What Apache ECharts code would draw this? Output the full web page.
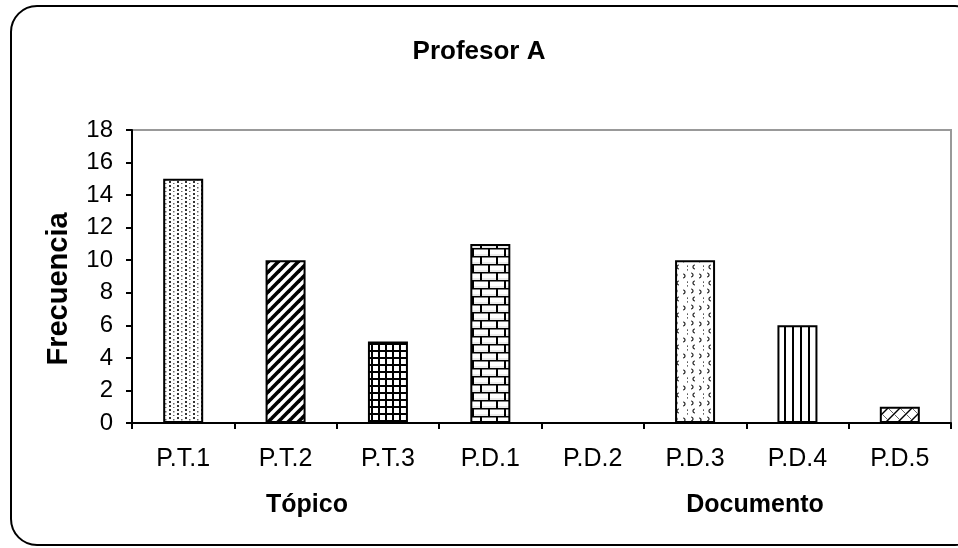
<!DOCTYPE html>
<html>
<head>
<meta charset="utf-8">
<script src="https://cdn.jsdelivr.net/npm/echarts@6/dist/echarts.min.js"></script>
<style>
html,body{margin:0;padding:0;background:#fff;}
#chart{width:958px;height:548px;}
</style>
</head>
<body>
<div id="chart"></div>
<script>
const categories = ['P.T.1','P.T.2','P.T.3','P.D.1','P.D.2','P.D.3','P.D.4','P.D.5'];
const values = [15, 10, 5, 11, 0, 10, 6, 1];
const patterns = ['dots','diag','grid','brick','none','confetti','vlines','trellis'];
const yTicks = [0, 2, 4, 6, 8, 10, 12, 14, 16, 18];
const groupLabels = ['Tópico', 'Documento'];
const titleText = 'Profesor A';
const yName = 'Frecuencia';

function makePattern(type) {
  const c = document.createElement('canvas');
  const ctx = c.getContext('2d');
  function size(w, h) { c.width = w; c.height = h; ctx.fillStyle = '#fff'; ctx.fillRect(0, 0, w, h); }
  if (type === 'dots') {
    size(8, 8);
    ctx.fillStyle = '#333';
    ctx.fillRect(1, 1, 2, 2); ctx.fillRect(1, 5, 2, 2);
    ctx.fillStyle = '#666';
    ctx.fillRect(5, 3, 1.5, 1.5); ctx.fillRect(5, 7, 1.5, 1);
  } else if (type === 'diag') {
    size(10, 10);
    ctx.strokeStyle = '#000'; ctx.lineWidth = 3.6;
    for (let k = -10; k <= 20; k += 10) {
      ctx.beginPath(); ctx.moveTo(k - 10, 20); ctx.lineTo(k + 20, -10); ctx.stroke();
    }
  } else if (type === 'grid') {
    size(7, 7);
    ctx.fillStyle = '#000';
    ctx.fillRect(0, 0, 7, 2); ctx.fillRect(0, 0, 2, 7);
  } else if (type === 'brick') {
    size(16, 16);
    ctx.fillStyle = '#d8d8d8';
    ctx.fillRect(0, 6.5, 16, 1); ctx.fillRect(0, 14.5, 16, 1);
    ctx.fillStyle = '#000';
    ctx.fillRect(0, 0, 16, 1.5); ctx.fillRect(0, 8, 16, 1.5);
    ctx.fillRect(0, 0, 2, 8); ctx.fillRect(8, 8, 2, 8);
  } else if (type === 'confetti') {
    size(16, 16);
    ctx.strokeStyle = '#222'; ctx.lineWidth = 1.2;
    const marks = [[3, 3, 1], [11, 4, 1], [7, 11, -1], [15, 12, 1]];
    marks.forEach(m => {
      ctx.beginPath(); ctx.arc(m[0], m[1], 2, m[2] > 0 ? -Math.PI / 2 : Math.PI / 2, m[2] > 0 ? Math.PI / 2 : Math.PI * 1.5); ctx.stroke();
    });
  } else if (type === 'vlines') {
    size(8, 4);
    ctx.fillStyle = '#000';
    ctx.fillRect(0, 0, 2, 4);
  } else if (type === 'trellis') {
    size(12, 12);
    ctx.strokeStyle = '#000'; ctx.lineWidth = 1.4;
    ctx.beginPath(); ctx.moveTo(0, 12); ctx.lineTo(12, 0); ctx.stroke();
    ctx.strokeStyle = '#666'; ctx.lineWidth = 1;
    ctx.beginPath(); ctx.moveTo(0, 0); ctx.lineTo(12, 12); ctx.stroke();
  } else {
    size(2, 2);
  }
  return c;
}

const chart = echarts.init(document.getElementById('chart'), null, {renderer: 'canvas'});
const seriesData = values.map((v, i) => ({
  value: v,
  itemStyle: {
    color: {image: makePattern(patterns[i]), repeat: 'repeat'},
    borderColor: '#000',
    borderWidth: 2
  }
}));

const font = 'Arial, "Liberation Sans", sans-serif';
chart.setOption({
  animation: false,
  backgroundColor: '#fff',
  title: {
    text: titleText, left: 'center', top: 34,
    textStyle: {fontFamily: font, fontSize: 26, fontWeight: 'bold', color: '#000'}
  },
  grid: {
    left: 132, right: 7, top: 130, bottom: 125,
    show: true, borderColor: '#999', borderWidth: 2, backgroundColor: 'transparent'
  },
  xAxis: {
    type: 'category', data: categories,
    axisLine: {lineStyle: {color: '#000', width: 2}},
    axisTick: {show: true, length: 6, lineStyle: {color: '#000', width: 2}},
    axisLabel: {fontFamily: font, fontSize: 25, color: '#000', margin: 24}
  },
  yAxis: {
    type: 'value', min: 0, max: 18, interval: 2,
    axisLine: {show: true, lineStyle: {color: '#000', width: 2}},
    axisTick: {show: true, length: 6, lineStyle: {color: '#000', width: 2}},
    axisLabel: {fontFamily: font, fontSize: 24, color: '#000', margin: 19,
      formatter: v => yTicks.indexOf(v) >= 0 ? String(v) : ''},
    splitLine: {show: false}
  },
  series: [{
    type: 'bar', data: seriesData, barWidth: 40
  }],
  graphic: [
    {type: 'rect', shape: {x: 11, y: 6, width: 970, height: 539, r: 26},
      style: {fill: 'none', stroke: '#000', lineWidth: 2}, silent: true, z: 100},
    {type: 'text', x: 59, y: 289, rotation: Math.PI / 2,
      style: {text: yName, font: 'bold 29px ' + font, fill: '#000', textAlign: 'center', textVerticalAlign: 'middle'}},
    {type: 'text', x: 307, y: 505, style: {text: groupLabels[0], font: 'bold 25px ' + font, fill: '#000', textAlign: 'center', textVerticalAlign: 'middle'}},
    {type: 'text', x: 755, y: 505, style: {text: groupLabels[1], font: 'bold 25px ' + font, fill: '#000', textAlign: 'center', textVerticalAlign: 'middle'}}
  ]
});
</script>
</body>
</html>
